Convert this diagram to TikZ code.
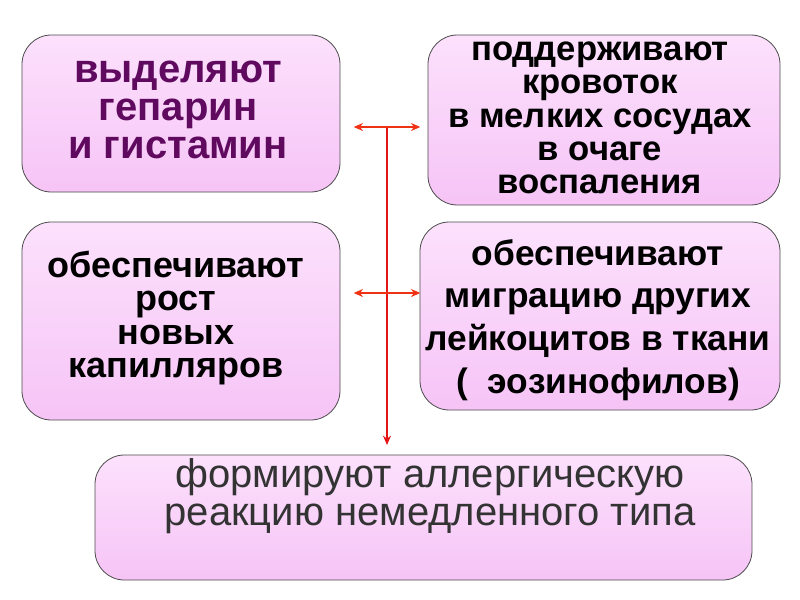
\documentclass[tikz,border=0pt]{standalone}
\usepackage{fontspec}
\setmainfont{Liberation Sans}
\usetikzlibrary{arrows.meta}
\begin{document}
\begin{tikzpicture}[x=0.75pt,y=-0.75pt,
 box/.style={draw=black!70,line width=0.6pt,rounded corners=22pt,top color={rgb,255:red,252;green,225;blue,252},bottom color={rgb,255:red,246;green,196;blue,246},inner sep=0pt},
 txt/.style={align=center,font=\bfseries},
 arr/.style={draw={rgb,255:red,240;green,50;blue,20},line width=1.2pt,-{Stealth[length=7pt,width=6pt]}},
 harr/.style={arr,{Stealth[length=7pt,width=6pt]}-{Stealth[length=7pt,width=6pt]}}]
\fill[white] (0,0) rectangle (800,600);
\path[box] (22,35) rectangle (340,192);
\path[box] (428,35) rectangle (780,205);
\path[box] (22,222) rectangle (340,420);
\path[box] (420,222) rectangle (780,410);
\path[box] (95,455) rectangle (752,580);
\node[txt,text={rgb,255:red,95;green,10;blue,95},font=\bfseries\fontsize{30}{28.5}\selectfont] (a) at (178,110) {выделяют\\гепарин\\и гистамин};
\node[txt,font=\bfseries\fontsize{26}{25}\selectfont] (b) at (600,118) {поддерживают\\кровоток\\в мелких сосудах\\в очаге\\воспаления};
\node[txt,font=\bfseries\fontsize{27}{25}\selectfont] (c) at (176,318) {обеспечивают\\рост\\новых\\капилляров};
\node[txt,font=\bfseries\fontsize{26.5}{32}\selectfont] (d) at (598,320) {обеспечивают\\миграцию других\\лейкоцитов в ткани\\(\ \ эозинофилов)};
\node[align=center,text=black!80,font=\fontsize{30}{29}\selectfont] (e) at (430,496) {формируют аллергическую\\реакцию немедленного типа};
\coordinate (t) at (387,127);
\coordinate (m) at (387,293);
\coordinate (bt) at (387,445);
\draw[arr,draw={rgb,255:red,230;green,20;blue,20}] (t) -- (bt);
\draw[harr] ([xshift=-25]t) -- ([xshift=25]t);
\draw[harr] ([xshift=-25]m) -- ([xshift=25]m);
\end{tikzpicture}
\end{document}
